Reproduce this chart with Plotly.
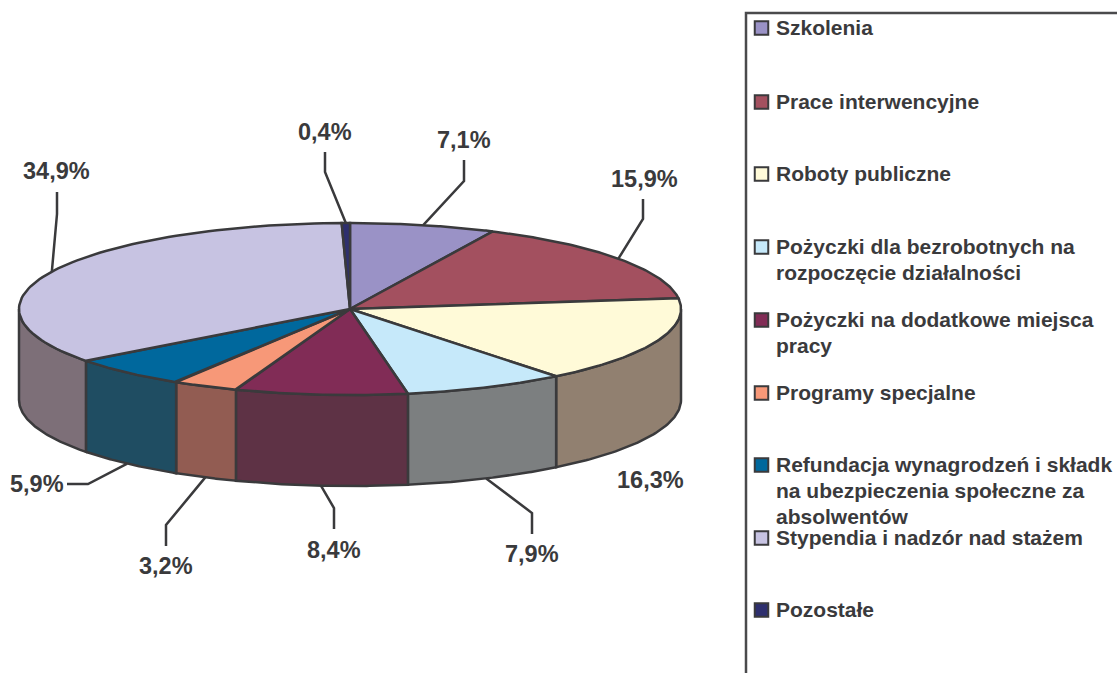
import numpy as np
import plotly.graph_objects as go

categories = ["Szkolenia", "Prace interwencyjne", "Roboty publiczne",
              "Pożyczki dla bezrobotnych na<br>rozpoczęcie działalności",
              "Pożyczki na dodatkowe miejsca<br>pracy", "Programy specjalne",
              "Refundacja wynagrodzeń i składk<br>na ubezpieczenia społeczne za<br>absolwentów",
              "Stypendia i nadzór nad stażem", "Pozostałe"]
values = [7.1, 15.9, 16.3, 7.9, 8.4, 3.2, 5.9, 34.9, 0.4]

top_colors = ["#9A92C6", "#A3505F", "#FFFAD8", "#C6E9FA", "#812C56",
              "#F79878", "#00689D", "#C7C3E2", "#2E2F6E"]
side_colors = ["#6E6990", "#773B46", "#918070", "#7C7F80", "#5E3245",
               "#925C52", "#1F4D62", "#7D6F78", "#232350"]

# where each value label sits, and the elbow/end of its leader line
label_x = [464, 644, 650, 532, 334, 166, 37, 56, 325]
label_y = [140, 179, 480, 554, 550, 566, 484, 171, 132]
leader_elbow = [(464, 181), (643, 219), None, (532, 513), (334, 508), (166, 525), (88, 484), (57, 214), (325, 172)]
leader_end = [(464, 160), (643, 199), None, (532, 534), (334, 529), (166, 546), (67, 484), (57, 192), (325, 152)]

legend_y = [28, 102, 174, 247, 320, 393, 465, 538, 610]

cx, cy, rx, ry, depth = 350, 309, 331, 86, 91
ink = "#3A3A3C"


def rim(t):
    return cx + rx * np.sin(t), cy - ry * np.cos(t)


edges = np.cumsum([0] + values) / sum(values) * 2 * np.pi

fig = go.Figure()

# side walls, only the front half of the cylinder shows
for i in range(len(values)):
    a, b = max(edges[i], np.pi / 2), min(edges[i + 1], 3 * np.pi / 2)
    if a >= b:
        continue
    x, y = rim(np.linspace(a, b, 60))
    fig.add_trace(go.Scatter(x=np.r_[x, x[::-1], x[0]], y=np.r_[y, y[::-1] + depth, y[0]],
                             mode="lines", fill="toself", fillcolor=side_colors[i],
                             line=dict(color=ink, width=2.5), hoverinfo="skip", showlegend=False))

# top wedges
for i in range(len(values)):
    x, y = rim(np.linspace(edges[i], edges[i + 1], 80))
    fig.add_trace(go.Scatter(x=np.r_[cx, x, cx], y=np.r_[cy, y, cy],
                             mode="lines", fill="toself", fillcolor=top_colors[i],
                             line=dict(color=ink, width=2.5), name=categories[i],
                             hoverinfo="name", showlegend=False))

# leader lines start from the middle of the slice
for i in range(len(values)):
    if leader_elbow[i] is None:
        continue
    mid = (edges[i] + edges[i + 1]) / 2
    x0, y0 = rim(mid)
    if np.pi / 2 < mid < 3 * np.pi / 2:
        y0 += depth
    fig.add_trace(go.Scatter(x=[x0, leader_elbow[i][0], leader_end[i][0]],
                             y=[y0, leader_elbow[i][1], leader_end[i][1]],
                             mode="lines", line=dict(color=ink, width=2.5),
                             hoverinfo="skip", showlegend=False))

# legend frame runs off the page on the right and at the bottom
fig.add_trace(go.Scatter(x=[1117, 746, 746], y=[13, 13, 673], mode="lines",
                         line=dict(color="#4A4A4C", width=2.5), hoverinfo="skip", showlegend=False))
fig.add_trace(go.Scatter(x=[761.5] * len(categories), y=legend_y, mode="markers",
                         marker=dict(symbol="square", size=13.5, color=top_colors,
                                     line=dict(color=ink, width=2)),
                         hoverinfo="skip", showlegend=False))

for v, lx, ly in zip(values, label_x, label_y):
    fig.add_annotation(x=lx, y=ly, text=f"{v}%".replace(".", ","), showarrow=False,
                       font=dict(family="Liberation Sans", size=23.5, color=ink, weight="bold"))

for name, ly in zip(categories, legend_y):
    for k, line in enumerate(name.split("<br>")):
        fig.add_annotation(x=773.5, y=ly - 0.7 + k * 26, text=line, showarrow=False, xanchor="left",
                           font=dict(family="Liberation Sans", size=21, color=ink, weight="bold"))

fig.update_xaxes(range=[0, 1117], visible=False, fixedrange=True)
fig.update_yaxes(range=[673, 0], visible=False, fixedrange=True)
fig.update_layout(width=1117, height=673, margin=dict(l=0, r=0, t=0, b=0),
                  paper_bgcolor="white", plot_bgcolor="white", showlegend=False)

fig.write_html("out.html", config=dict(displayModeBar=False),
               post_script="document.body.style.margin='0';document.body.style.overflow='hidden';")
